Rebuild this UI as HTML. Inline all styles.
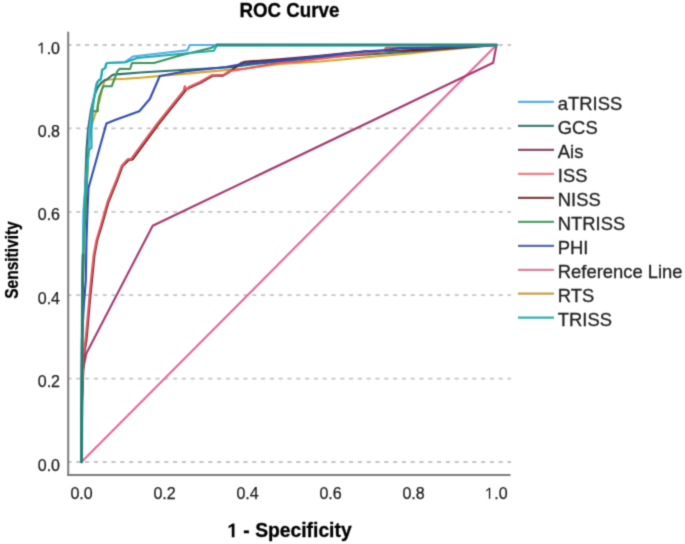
<!DOCTYPE html>
<html><head><meta charset="utf-8"><style>
html,body{margin:0;padding:0;background:#fff;}
body{width:685px;height:544px;overflow:hidden;}
svg{display:block;will-change:transform;font-family:"Liberation Sans",sans-serif;}
.t{stroke-width:0.25;paint-order:stroke;}
</style></head><body>
<svg width="685" height="544" viewBox="0 0 685 544">
<defs><filter id="soft" filterUnits="userSpaceOnUse" x="0" y="0" width="685" height="544" color-interpolation-filters="sRGB"><feConvolveMatrix order="3" kernelMatrix="1 4 1 4 16 4 1 4 1" divisor="36" edgeMode="duplicate" preserveAlpha="true"/></filter></defs>
<g filter="url(#soft)">
<rect width="685" height="544" fill="#fff"/>
<text transform="translate(289.4,17.1) scale(0.936,1)" text-anchor="middle" font-weight="bold" font-size="20" fill="#000" stroke="#000" stroke-width="0.3">ROC Curve</text>
<g stroke="#c4c4c4" stroke-width="1.8" stroke-dasharray="4 4.8" stroke-dashoffset="1.5">
<line x1="69" y1="462.0" x2="511" y2="462.0"/>
<line x1="69" y1="378.6" x2="511" y2="378.6"/>
<line x1="69" y1="295.2" x2="511" y2="295.2"/>
<line x1="69" y1="211.8" x2="511" y2="211.8"/>
<line x1="69" y1="128.4" x2="511" y2="128.4"/>
<line x1="69" y1="45.0" x2="511" y2="45.0"/>
</g>
<g fill="none" stroke-width="2.1" stroke-linejoin="round" stroke-linecap="round">
<path d="M81.5,462.0 L496.5,45.0" stroke="#e8689a"/>
<path d="M81.5,462.0 L82.5,372.0 L86.3,353.5 L152.7,225.7 L493.2,62.8 L496.5,45.0" stroke="#a8386e"/>
<path d="M81.5,462.0 L81.8,400.0 L82.1,350.0 L82.5,300.0 L83.5,250.0 L85.5,210.0 L86.5,190.0 L88.5,150.0 L90.0,130.0 L96.0,112.0 L99.8,99.6 L102.0,90.0 L103.3,84.5 L104.9,80.4 L108.0,79.5 L126.0,78.8 L140.0,77.7 L186.0,73.6 L245.0,68.5 L280.0,64.0 L320.0,61.5 L372.0,56.7 L412.0,53.2 L425.0,51.7 L496.5,45.0" stroke="#d6a42a"/>
<path d="M81.5,462.0 L81.8,400.0 L82.0,350.0 L82.3,300.0 L83.2,250.0 L84.5,210.0 L85.0,190.0 L86.5,150.0 L88.0,130.0 L91.0,110.0 L94.5,95.0 L98.0,87.0 L101.5,82.5 L104.5,80.3 L107.3,79.3 L111.7,75.5 L114.0,74.5 L120.0,74.1 L140.0,72.5 L186.0,69.8 L230.0,67.2 L255.0,64.0 L280.0,61.4 L320.0,57.5 L372.0,54.3 L425.0,50.5 L496.5,45.0" stroke="#2a716b"/>
<path d="M81.5,462.0 L82.0,400.0 L84.0,355.0 L86.5,340.0 L90.0,300.0 L92.0,280.0 L94.5,255.0 L97.3,240.0 L102.0,225.0 L108.5,202.0 L117.4,180.0 L122.6,166.0 L128.8,160.0 L132.7,159.4 L158.6,124.2 L185.5,90.5 L189.0,88.0 L201.0,82.5 L212.6,75.8 L223.0,75.6 L230.0,71.5 L235.3,67.3 L241.4,62.9 L245.0,61.8 L280.0,59.2 L320.0,55.8 L365.0,51.3 L400.0,50.5 L425.0,49.6 L496.5,45.0" stroke="#6c2828"/>
<path d="M81.5,462.0 L82.0,400.0 L83.5,355.0 L85.6,340.0 L89.2,300.0 L91.0,280.0 L93.7,255.0 L96.5,240.0 L101.0,225.0 L107.5,202.0 L116.4,180.0 L121.6,166.0 L127.5,159.4 L131.2,158.8 L157.0,124.0 L183.5,91.0 L184.8,86.3 L186.5,89.8 L188.5,87.3 L200.0,82.0 L211.6,75.3 L223.4,74.8 L230.0,71.0 L245.0,68.8 L280.0,62.5 L300.0,61.3 L320.0,58.8 L365.0,53.5 L383.0,51.5 L386.0,47.8 L430.0,47.6 L496.5,45.0" stroke="#e85560"/>
<path d="M81.5,462.0 L81.9,340.0 L83.9,305.0 L85.8,280.0 L86.5,240.0 L87.5,210.0 L88.5,188.0 L106.4,123.5 L115.0,120.0 L139.3,111.2 L149.8,99.0 L159.8,76.0 L186.0,71.3 L226.0,67.0 L245.0,63.5 L280.0,60.6 L320.0,56.4 L365.0,51.5 L386.0,50.0 L400.0,48.0 L430.0,47.6 L496.5,45.0" stroke="#2f4cb8"/>
<path d="M81.5,462.0 L81.8,400.0 L82.1,350.0 L82.5,300.0 L83.5,250.0 L85.5,210.0 L86.5,190.0 L88.5,150.0 L90.0,130.0 L92.1,111.3 L97.8,111.3 L97.8,105.0 L99.2,97.0 L102.0,89.0 L103.6,86.3 L111.7,86.3 L117.6,70.7 L119.8,68.8 L130.0,69.0 L132.0,63.0 L154.0,63.0 L180.0,55.5 L211.8,47.7 L215.9,45.0 L496.5,45.0" stroke="#3d9458"/>
<path d="M81.5,462.0 L81.7,400.0 L82.0,350.0 L82.3,300.0 L83.0,250.0 L83.5,210.0 L85.2,190.0 L87.7,160.0 L88.8,150.0 L89.3,130.0 L93.0,104.0 L94.2,97.0 L95.5,88.4 L96.7,83.2 L98.6,80.3 L100.4,79.5 L101.5,74.4 L101.9,70.0 L103.7,68.9 L105.2,67.8 L105.9,64.1 L107.0,63.0 L125.0,62.2 L132.9,56.5 L187.3,50.3 L189.8,45.0 L496.5,45.0" stroke="#4eaeee"/>
<path d="M81.5,462.0 L81.7,400.0 L82.0,350.0 L82.3,300.0 L83.0,250.0 L84.0,210.0 L85.5,190.0 L87.5,160.0 L89.0,150.0 L91.5,148.0 L91.5,130.0 L93.3,104.0 L94.5,97.0 L95.8,88.4 L97.0,83.2 L98.9,80.3 L100.7,79.5 L101.8,74.4 L102.2,70.0 L104.0,68.9 L105.5,67.8 L106.2,64.1 L107.3,63.0 L125.5,62.2 L137.5,58.0 L213.8,50.8 L216.9,45.2 L496.5,45.0" stroke="#22aaa6"/>
<path d="M81.6,462 L81.9,400 L82.1,350 L82.4,300 L83.1,255" stroke="#257f70" stroke-width="2.8"/>
<path d="M216.5,45.6 L496.5,45.6" stroke="#1ea5a0" stroke-width="2"/>
<path d="M216.5,44.4 L496.5,44.4" stroke="#2a8078" stroke-width="2"/>
</g>
<g stroke="#7c7c7c" stroke-width="2">
<line x1="68.2" y1="31.7" x2="68.2" y2="475.9"/>
<line x1="67.2" y1="474.9" x2="510.5" y2="474.9"/>
</g>
<g font-size="16" fill="#1a1a1a" stroke="#1a1a1a" class="t">
<text x="60" y="470.6" text-anchor="end">0.0</text>
<text x="60" y="387.2" text-anchor="end">0.2</text>
<text x="60" y="303.8" text-anchor="end">0.4</text>
<text x="60" y="220.4" text-anchor="end">0.6</text>
<text x="60" y="137.0" text-anchor="end">0.8</text>
<path transform="translate(37.76,53.60) scale(0.00781,-0.00781)" d="M450,0 L620,0 L620,1409 L515,1409 L95,1105 L95,945 L450,1180 Z" fill="#1a1a1a"/>
<text x="46.66" y="53.6">.0</text>
<text x="81.5" y="498.8" text-anchor="middle">0.0</text>
<text x="164.5" y="498.8" text-anchor="middle">0.2</text>
<text x="247.5" y="498.8" text-anchor="middle">0.4</text>
<text x="330.5" y="498.8" text-anchor="middle">0.6</text>
<text x="413.5" y="498.8" text-anchor="middle">0.8</text>
<path transform="translate(485.38,498.80) scale(0.00781,-0.00781)" d="M450,0 L620,0 L620,1409 L515,1409 L95,1105 L95,945 L450,1180 Z" fill="#1a1a1a"/>
<text x="494.28" y="498.8">.0</text>
</g>
<g transform="translate(227.29,537.2) scale(0.965,1)"><path transform="translate(0.00,0.00) scale(0.00977,-0.00977)" d="M478,0 L759,0 L759,1409 L578,1409 L138,1150 L138,905 L478,1095 Z" fill="#000"/>
<text x="11.12" y="0" font-weight="bold" font-size="20" fill="#000" stroke="#000" stroke-width="0.3" xml:space="preserve"> - Specificity</text></g>
<text transform="translate(17.5,260) rotate(-90) scale(0.815,1)" text-anchor="middle" font-weight="bold" font-size="19" fill="#000" stroke="#000" stroke-width="0.3">Sensitivity</text>
<g stroke-width="2.2">
<line x1="518" y1="101.9" x2="554" y2="101.9" stroke="#5aaeea"/>
<line x1="518" y1="125.9" x2="554" y2="125.9" stroke="#457f78"/>
<line x1="518" y1="149.9" x2="554" y2="149.9" stroke="#8c4c6a"/>
<line x1="518" y1="173.8" x2="554" y2="173.8" stroke="#ec8086"/>
<line x1="518" y1="197.8" x2="554" y2="197.8" stroke="#804444"/>
<line x1="518" y1="221.8" x2="554" y2="221.8" stroke="#52a06c"/>
<line x1="518" y1="245.8" x2="554" y2="245.8" stroke="#5a6cae"/>
<line x1="518" y1="269.8" x2="554" y2="269.8" stroke="#d8849f"/>
<line x1="518" y1="293.7" x2="554" y2="293.7" stroke="#c4a24a"/>
<line x1="518" y1="317.7" x2="554" y2="317.7" stroke="#30b0ac"/>
</g>
<g font-size="18.4" fill="#1e1e1e" stroke="#1e1e1e" stroke-width="0.3">
<text x="557.8" y="109.9">aTRISS</text>
<text x="557.8" y="133.9">GCS</text>
<text x="557.8" y="157.9">Ais</text>
<text x="557.8" y="181.8">ISS</text>
<text x="557.8" y="205.8">NISS</text>
<text x="557.8" y="229.8">NTRISS</text>
<text x="557.8" y="253.8">PHI</text>
<text x="557.8" y="277.8">Reference Line</text>
<text x="557.8" y="301.7">RTS</text>
<text x="557.8" y="325.7">TRISS</text>
</g>
</g>
</svg>
</body></html>
